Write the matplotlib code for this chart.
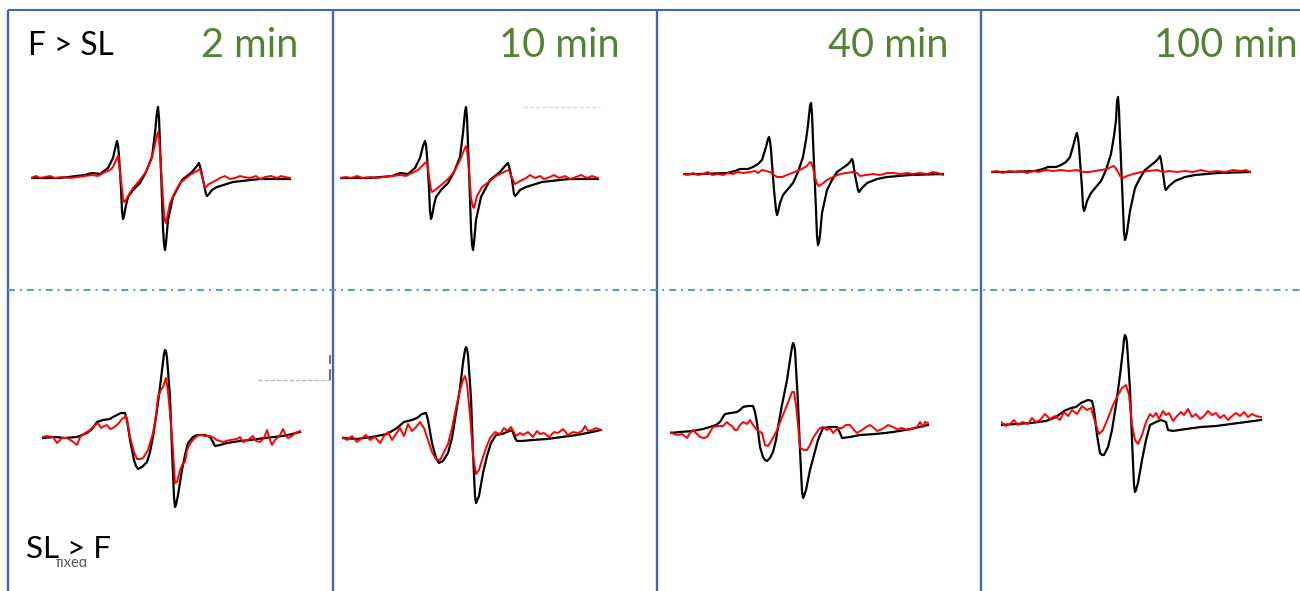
import matplotlib
matplotlib.use("Agg")
import matplotlib.pyplot as plt
from matplotlib.patches import Rectangle

plt.rcParams['lines.scale_dashes'] = False
plt.rcParams['font.family'] = ['Lato', 'DejaVu Sans']

W, H = 1300, 591

times = ["2 min", "10 min", "40 min", "100 min"]
row_labels = ["F > SL", "SL > F"]

# EPR spectra as (field offset, intensity) pairs; black = reference, red = after incubation
# ---- F > SL row ----
fsl_2_black = [(0, 0), (29, 0), (54, 3), (61, 5), (69, 4), (77, 10), (82, 20), (84, 29), (86, 37),
               (87, 33), (88, 22), (90, -10), (91, -33), (92, -41), (93, -38), (95, -27), (97, -19),
               (102, -12), (109, -5), (115, 6), (121, 21), (124, 45), (126, 66), (127, 71), (128, 60),
               (130, 8), (132, -50), (133, -66), (134, -72), (135, -65), (137, -42), (142, -19),
               (151, -2), (161, 6), (166, 12), (168, 15), (170, 8), (172, -2), (175, -16), (176, -18),
               (178, -16), (181, -12), (186, -9), (202, -4), (229, -1), (259, -1)]
fsl_2_red = [(0, 0), (5, 2), (9, 0), (14, 1), (19, 2), (24, 0), (31, 1), (39, 0), (47, 1), (54, 2),
             (61, 3), (67, 2), (72, 5), (79, 8), (82, 11), (85, 18), (87, 22), (90, -2), (92, -20),
             (93, -24), (95, -22), (97, -18), (102, -10), (109, -2), (116, 8), (122, 25), (125, 38),
             (127, 46), (128, 40), (130, 8), (133, -35), (134, -43), (135, -45), (137, -35), (139, -25),
             (144, -14), (149, -5), (159, 3), (166, 7), (169, 9), (172, -2), (174, -10), (178, -6),
             (182, -4), (189, 0), (194, 2), (199, -1), (204, 0), (209, 2), (213, 1), (219, 0),
             (225, 2), (229, -1), (234, 1), (240, 2), (246, 0), (250, 2), (254, 1), (259, 0)]

fsl_10_black = [(0, 0), (30, 0), (52, 2), (60, 5), (68, 4), (75, 10), (80, 20), (83, 32), (85, 37),
                (86, 33), (87, 22), (89, -10), (90, -33), (91, -41), (92, -38), (94, -27), (96, -19),
                (101, -12), (108, -5), (114, 6), (120, 21), (123, 45), (125, 66), (126, 71), (127, 60),
                (129, 8), (131, -50), (132, -66), (133, -72), (134, -65), (136, -42), (141, -19),
                (150, -2), (160, 6), (165, 12), (168, 15), (170, 8), (172, -2), (174, -16), (175, -18),
                (177, -16), (180, -12), (186, -9), (202, -4), (229, -1), (258, -1)]
fsl_10_red = [(0, 0), (6, 1), (11, 0), (17, 2), (23, 0), (30, 1), (37, 0), (44, 1), (52, 2), (60, 3),
              (66, 2), (72, 5), (78, 8), (82, 12), (85, 15), (87, 16), (89, 2), (91, -12), (92, -14),
              (95, -12), (100, -8), (107, -2), (114, 6), (120, 18), (124, 28), (126, 32), (127, 28),
              (129, 8), (131, -20), (133, -29), (134, -30), (137, -18), (142, -9), (150, -3), (156, 2),
              (160, 4), (166, 7), (169, 8), (172, 0), (175, -6), (180, -3), (186, 0), (190, 3), (195, 0),
              (200, 2), (204, -1), (210, 1), (214, 3), (219, 0), (225, 2), (230, -1), (236, 1),
              (241, 3), (247, 0), (252, 2), (258, 0)]

fsl_40_black = [(0, 0), (17, 0), (44, 1), (52, 3), (57, 5), (65, 5), (70, 7), (75, 10), (79, 14),
                (83, 27), (85, 35), (86, 37), (87, 33), (88, 24), (91, -16), (93, -36), (94, -41),
                (95, -38), (97, -29), (100, -21), (105, -15), (110, -9), (115, 2), (120, 17), (123, 34),
                (125, 49), (127, 68), (128, 71), (129, 60), (130, 34), (133, -36), (134, -62), (135, -71),
                (136, -68), (137, -61), (139, -39), (144, -16), (149, -6), (154, 2), (164, 9), (167, 12),
                (169, 15), (170, 12), (172, -1), (175, -16), (176, -18), (179, -14), (184, -9), (194, -5),
                (204, -3), (227, -1), (260, 0)]
fsl_40_red = [(0, 0), (5, -1), (10, 1), (15, -1), (20, 0), (25, 2), (29, -1), (35, 0), (40, -1), (45, 1),
              (50, 0), (55, 2), (60, 1), (67, 2), (72, 3), (75, 1), (79, 4), (83, 3), (87, 2), (91, -1),
              (94, -3), (99, -3), (104, -1), (109, 1), (114, 3), (119, 5), (124, 8), (126, 11), (128, 12),
              (130, 6), (132, -3), (134, -10), (136, -12), (139, -10), (144, -6), (150, -3), (157, 0),
              (163, 1), (170, 2), (174, 1), (177, -2), (183, -1), (190, 0), (197, -1), (204, 1),
              (210, 1), (217, 0), (224, 1), (230, 0), (237, 1), (244, 0), (250, 2), (255, 1), (260, -1)]

fsl_100_black = [(0, 0), (17, 0), (44, 1), (52, 3), (57, 5), (65, 5), (70, 7), (75, 10), (79, 15),
                 (83, 29), (85, 37), (86, 39), (87, 34), (88, 25), (91, -16), (92, -34), (93, -39),
                 (94, -37), (96, -29), (100, -21), (105, -15), (110, -9), (115, 2), (120, 18), (123, 36),
                 (125, 52), (126, 70), (127, 75), (128, 62), (129, 34), (132, -36), (133, -60), (134, -68),
                 (135, -65), (136, -60), (139, -39), (144, -16), (149, -6), (154, 2), (164, 10), (167, 13),
                 (169, 16), (170, 12), (172, -1), (174, -16), (175, -18), (178, -14), (184, -9), (194, -5),
                 (204, -3), (227, -1), (259, 0)]
fsl_100_red = [(0, 0), (6, 1), (12, -1), (18, 1), (24, 0), (30, 1), (36, -1), (42, 1), (48, 0),
               (55, 2), (62, 1), (70, 2), (78, 1), (86, 2), (92, 0), (98, 0), (104, 1), (110, 2),
               (116, 3), (120, 5), (123, 6), (126, 2), (129, -4), (132, -6), (136, -4), (142, -2),
               (150, 0), (158, 1), (166, 2), (172, 0), (178, 1), (186, 0), (194, 1), (202, 0),
               (210, 2), (218, 0), (226, 1), (234, 0), (242, 2), (250, 1), (255, 2), (259, 0)]

# ---- SL > F row ----
slf_2_black = [(0, -1), (13, 0), (23, -1), (35, 0), (45, 4), (50, 8), (55, 15), (61, 17), (68, 18),
               (71, 20), (75, 22), (79, 24), (83, 24), (85, 17), (88, -3), (92, -23), (94, -29), (96, -32),
               (98, -31), (100, -30), (105, -25), (108, -15), (111, 0), (115, 27), (118, 50), (121, 75),
               (122, 83), (123, 87), (124, 86), (125, 79), (128, 40), (130, -13), (132, -60), (133, -70),
               (134, -68), (136, -58), (140, -33), (143, -18), (146, -6), (151, 0), (155, 2), (163, 2),
               (168, 0), (171, -5), (173, -9), (178, -8), (185, -6), (198, -4), (208, -3), (223, -1),
               (241, 1), (250, 3), (258, 5)]
slf_2_red = [(0, 0), (5, 1), (11, 0), (15, -6), (20, -1), (25, -1), (30, -4), (35, -8), (38, 0),
             (43, 4), (48, 7), (51, 10), (56, 14), (59, 9), (62, 11), (65, 12), (68, 8), (71, 9),
             (76, 13), (80, 18), (84, 21), (86, 12), (88, 0), (92, -15), (95, -22), (98, -22),
             (101, -21), (106, -13), (111, 4), (114, 22), (116, 40), (119, 47), (121, 50), (124, 59),
             (126, 45), (128, 24), (131, -13), (133, -46), (135, -45), (138, -33), (141, -26),
             (143, -25), (145, -13), (148, -7), (151, -3), (155, 1), (158, 2), (163, 1), (168, 1),
             (172, -1), (175, -3), (181, -5), (188, -3), (195, -2), (198, 0), (201, -5), (206, -3),
             (211, 1), (214, -4), (218, -5), (222, -1), (225, 7), (228, -3), (230, -8), (233, -3),
             (235, -1), (238, 2), (241, 8), (244, 1), (246, -1), (250, 1), (253, 4), (258, 6)]

slf_10_black = [(0, 0), (15, -1), (30, 1), (45, 4), (55, 10), (62, 16), (70, 18), (75, 20), (80, 24),
                (84, 25), (86, 18), (90, -5), (94, -20), (97, -25), (101, -23), (106, -15), (110, 0),
                (114, 25), (118, 50), (121, 75), (123, 88), (124, 91), (125, 89), (126, 83), (129, 40),
                (131, -15), (133, -58), (134, -65), (135, -63), (137, -58), (141, -35), (145, -18),
                (149, -5), (154, 3), (160, 4), (165, 6), (170, 8), (173, 0), (175, -3), (180, -3),
                (190, -2), (205, -1), (220, 1), (235, 3), (250, 6), (259, 8)]
slf_10_red = [(0, 1), (5, -2), (10, 2), (15, -4), (20, 0), (24, 3), (28, -2), (33, 1), (38, -5),
              (42, 2), (46, 6), (50, -2), (54, 4), (58, 10), (62, 2), (66, 14), (70, 7), (74, 11),
              (78, 16), (82, 10), (86, -2), (90, -14), (94, -21), (98, -22), (102, -14), (106, -6),
              (110, 10), (114, 30), (118, 48), (121, 58), (123, 62), (125, 54), (128, 23), (131, -17),
              (134, -36), (137, -32), (140, -22), (144, -10), (148, 0), (153, 6), (158, 4), (162, 10),
              (165, 7), (169, 11), (174, 2), (178, 5), (181, 3), (186, 6), (191, 1), (195, 7), (198, 4),
              (202, 5), (207, 1), (212, 6), (216, 5), (221, 9), (226, 3), (231, 6), (236, 5), (240, 7),
              (243, 12), (246, 7), (250, 8), (254, 10), (259, 8)]

slf_40_black = [(0, 0), (10, 1), (23, 2), (33, 4), (40, 6), (46, 8), (50, 11), (53, 16), (55, 19),
                (61, 20), (67, 21), (70, 23), (73, 26), (78, 27), (83, 27), (85, 21), (87, 10), (90, -14),
                (93, -24), (95, -27), (97, -28), (100, -25), (103, -19), (106, -7), (108, 6), (112, 28),
                (117, 53), (120, 73), (122, 86), (123, 90), (124, 88), (125, 83), (128, 30), (130, -17),
                (132, -58), (133, -65), (134, -63), (136, -57), (140, -37), (144, -22), (148, -7),
                (153, 5), (160, 6), (167, 6), (170, 0), (172, -5), (180, -4), (190, -2), (205, -1),
                (215, 0), (223, 1), (235, 3), (245, 5), (258, 8)]
slf_40_red = [(0, 1), (4, -1), (8, -2), (12, -1), (17, -5), (20, 0), (23, 3), (27, -1), (30, -4),
              (34, -5), (37, -4), (40, 1), (43, 6), (48, 7), (53, 7), (57, 11), (60, 8), (62, 7),
              (65, 3), (67, 3), (70, 8), (73, 11), (77, 9), (80, 13), (83, 8), (87, 3), (92, 0),
              (95, -12), (98, -13), (100, -10), (104, -3), (107, 3), (111, 13), (115, 23), (119, 33),
              (122, 41), (124, 41), (126, 28), (128, 8), (130, -15), (134, -17), (137, -17), (140, -12),
              (143, -5), (147, 1), (150, 5), (153, 6), (157, 3), (160, 5), (163, 0), (168, 5), (172, 5),
              (176, 8), (180, 8), (184, 3), (187, 0), (192, 3), (196, 6), (200, 8), (204, 5), (207, 2),
              (210, 3), (214, 5), (218, 8), (223, 6), (227, 4), (232, 5), (237, 3), (242, 4), (247, 6),
              (250, 11), (253, 6), (255, 11), (258, 10)]

slf_100_black = [(0, 0), (15, 1), (30, 2), (45, 4), (55, 8), (63, 14), (70, 17), (75, 18), (80, 22),
                 (87, 25), (91, 24), (93, 15), (96, -10), (99, -28), (101, -30), (103, -30), (107, -22),
                 (111, -5), (115, 20), (119, 50), (122, 75), (123, 86), (124, 90), (125, 88), (126, 82),
                 (129, 35), (131, -15), (133, -60), (134, -67), (135, -65), (137, -58), (141, -35),
                 (145, -15), (149, 0), (155, 3), (160, 5), (165, 3), (167, -5), (172, -6), (185, -4),
                 (200, -2), (215, -1), (230, 1), (245, 3), (260, 5)]
slf_100_red = [(0, 3), (5, -1), (9, 1), (13, 5), (17, 0), (22, 3), (27, 1), (31, 7), (35, 3), (39, 5),
               (44, 11), (49, 6), (54, 9), (59, 5), (63, 13), (67, 9), (71, 15), (76, 11), (81, 19),
               (86, 15), (90, 17), (94, 3), (98, -9), (102, -5), (107, 7), (112, 20), (117, 30),
               (121, 37), (125, 40), (128, 30), (131, 0), (134, -15), (137, -19), (141, -10), (145, 3),
               (149, 11), (152, 8), (155, 12), (158, 6), (162, 14), (165, 10), (168, 12), (172, 4),
               (176, 9), (180, 13), (183, 10), (187, 16), (191, 8), (195, 11), (199, 6), (203, 9),
               (207, 14), (211, 10), (215, 12), (219, 7), (223, 10), (227, 5), (231, 9), (235, 12),
               (239, 9), (243, 13), (247, 8), (251, 11), (255, 9), (260, 8)]

curves = [
    [(fsl_2_black, fsl_2_red), (fsl_10_black, fsl_10_red),
     (fsl_40_black, fsl_40_red), (fsl_100_black, fsl_100_red)],
    [(slf_2_black, slf_2_red), (slf_10_black, slf_10_red),
     (slf_40_black, slf_40_red), (slf_100_black, slf_100_red)],
]

# placement of each spectrum (left edge, baseline) in figure pixels
spec_left = [[31, 340, 683, 991], [42, 342, 670, 1001]]
spec_base = [[178, 178, 174, 172], [437, 438, 433, 425]]
SPAN = 261
HALF = 120

frame_col = '#4566ad'
sep_col = '#5b9bd5'
green = '#548235'

fig = plt.figure(figsize=(W / 100, H / 100), dpi=100)
fig.patch.set_facecolor('white')

bg = fig.add_axes([0, 0, 1, 1])
bg.set_xlim(0, W)
bg.set_ylim(H, 0)
bg.axis('off')

# panel frame
bg.plot([8, W], [10, 10], color=frame_col, lw=1.5, solid_capstyle='butt')
for xv in [8, 333, 657, 981]:
    bg.plot([xv, xv], [10, H], color=frame_col, lw=1.7, solid_capstyle='butt')
bg.plot([8, W], [290, 290], color=sep_col, lw=1.5, dashes=(5, 3.6, 1.4, 3.6))

# faint leftover guide marks
bg.plot([523, 600], [107, 107], color='#d8d8d8', lw=1.0, dashes=(3, 1.5))
bg.plot([258, 330], [380, 380], color='#bdbdbd', lw=1.0, dashes=(3, 1.5))
bg.plot([330, 330], [356, 363], color='#555555', lw=1.2)
bg.plot([330, 330], [370, 379], color='#555555', lw=1.2)

# column titles and row labels
title_right = [298, 620, 948, 1298]
for t, xr in zip(times, title_right):
    bg.text(xr, 57, t, color=green, fontsize=28.5, ha='right', va='baseline')
bg.text(28, 55, row_labels[0], color='black', fontsize=22.8, ha='left', va='baseline')

bg.text(56, 567, "fixed", color='#555555', fontsize=10.5, ha='left', va='baseline', zorder=1)
bg.add_patch(Rectangle((40, 520), 80, 39, facecolor='white', edgecolor='none', zorder=2))
bg.text(26, 558, row_labels[1], color='black', fontsize=22.6, ha='left', va='baseline', zorder=3)

for r in range(2):
    for c in range(4):
        black, red = curves[r][c]
        x0 = spec_left[r][c]
        yb = spec_base[r][c]
        ax = fig.add_axes([x0 / W, (H - (yb + HALF)) / H, SPAN / W, 2 * HALF / H])
        ax.set_xlim(0, SPAN)
        ax.set_ylim(-HALF, HALF)
        ax.axis('off')
        bx, by = zip(*black)
        rx, ry = zip(*red)
        ax.plot(bx, by, color='black', lw=1.6, solid_joinstyle='round')
        ax.plot(rx, ry, color='#ff0000', lw=1.4, solid_joinstyle='round')

fig.savefig('out.png', dpi=100, facecolor='white')
